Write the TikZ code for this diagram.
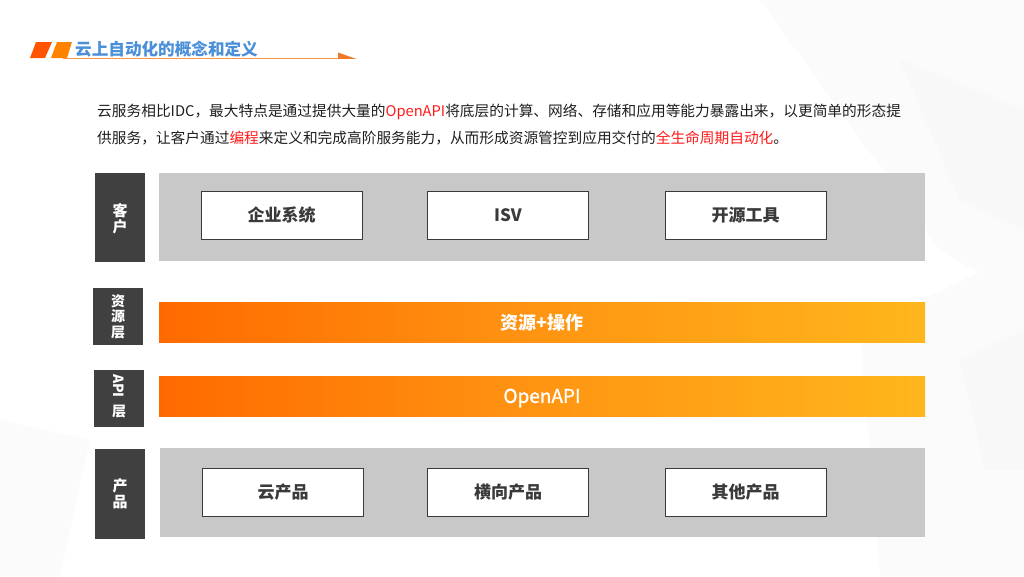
\documentclass[tikz,border=0pt]{standalone}
\usepackage{fontspec}
\setmainfont{Noto Sans CJK SC}
\newfontfamily\medfont[FakeBold=1.2]{Noto Sans CJK SC}
\definecolor{panel}{HTML}{C8C8C8}
\definecolor{darklab}{HTML}{404040}
\definecolor{oL}{HTML}{FF6A00}
\definecolor{oR}{HTML}{FFB61C}
\definecolor{oM}{HTML}{FF9512}
\definecolor{titleblue}{HTML}{4A8FD8}
\definecolor{txt}{HTML}{1E1E1E}
\definecolor{hl}{HTML}{FF1A1A}
\definecolor{boxtxt}{HTML}{3A3A3A}
\definecolor{bgA}{HTML}{F8F8F8}
\definecolor{bgB}{HTML}{FBFBFB}
\definecolor{tA}{HTML}{FF5500}
\definecolor{tB}{HTML}{FF8200}
\definecolor{tLine}{HTML}{F59646}
\definecolor{tTri}{HTML}{F07828}
\tikzset{
  panelbox/.style={fill=panel, draw=none},
  labbox/.style={fill=darklab, draw=none},
  itembox/.style={fill=white, draw=boxtxt, line width=0.8pt, minimum width=161pt, minimum height=48pt, inner sep=0pt,
    font=\fontsize{17}{20}\selectfont\bfseries, text=boxtxt},
  barbox/.style={left color=oL, right color=oR, middle color=oM, draw=none},
  bartext/.style={text=white, font=\fontsize{18}{21}\selectfont\bfseries},
  labtext/.style={text=white, font=\fontsize{15}{16}\selectfont\bfseries, align=center, inner sep=0pt},
  paratext/.style={text=txt, font=\fontsize{14.7}{18}\selectfont, inner sep=0pt, anchor=base west}
}
\begin{document}
\begin{tikzpicture}[x=1pt,y=-1pt]
\useasboundingbox (0,0) rectangle (1024,576);
% background facets
\fill[bgB] (760,0) -- (1024,0) -- (1024,300) -- (940,250) -- cycle;
\fill[bgA] (900,60) -- (1024,110) -- (1024,230) -- (960,200) -- cycle;
\fill[bgB] (860,330) -- (1024,250) -- (1024,576) -- (880,576) -- cycle;
\fill[bgA] (960,360) -- (1024,330) -- (1024,470) -- (985,470) -- cycle;
\fill[bgB] (0,420) -- (90,440) -- (60,576) -- (0,576) -- cycle;

% title decoration
\fill[tA] (36,42) -- (52,42) -- (45,58) -- (30,58) -- cycle;
\fill[tB] (57,42) -- (72,42) -- (67,58) -- (51,58) -- cycle;
\draw[tLine, line width=0.9pt] (63,58.3) -- (340,58.3);
\fill[tTri] (338,52.5) -- (356,58.8) -- (338,58.8) -- cycle;
\node[anchor=base west, inner sep=0pt, text=titleblue, font=\fontsize{16.6}{19}\selectfont\bfseries] (title) at (75,55.5) {云上自动化的概念和定义};

% paragraph
\node[paratext] (line1) at (97,116) {云服务相比IDC，最大特点是通过提供大量的\textcolor{hl}{OpenAPI}将底层的计算、网络、存储和应用等能力暴露出来，以更简单的形态提};
\node[paratext] (line2) at (97,143) {供服务，让客户通过\textcolor{hl}{编程}来定义和完成高阶服务能力，从而形成资源管控到应用交付的\textcolor{hl}{全生命周期自动化}。};

% row 1: customers
\fill[labbox] (95,173) rectangle (145,262);
\node[labtext] (labKH) at (120,218.5) {客\\户};
\fill[panelbox] (159,173) rectangle (925,261);
\node[itembox] (qiye) at (281.5,215.5) {企业系统};
\node[itembox] (isv) at (508,215.5) {ISV};
\node[itembox] (kaiyuan) at (745.5,215.5) {开源工具};

% row 2: resource layer
\fill[labbox] (93,288) rectangle (143,345);
\node[labtext, font=\fontsize{14}{15.5}\selectfont\bfseries] (labZY) at (118,316.5) {资\\源\\层};
\fill[barbox] (159,302) rectangle (925,342);
\node[bartext] (res) at (542,322.5) {资源+操作};

% row 3: API layer
\fill[labbox] (94,370) rectangle (144,427);
\node[labtext, rotate=-90, font=\fontsize{14}{15}\selectfont\bfseries] (labAPI) at (119,386) {API};
\node[labtext, font=\fontsize{14}{15}\selectfont\bfseries] (labC) at (119,412) {层};
\fill[barbox] (159,376) rectangle (925,416);
\node[bartext, font=\fontsize{19}{21}\selectfont\medfont] (api) at (542,398) {OpenAPI};

% row 4: products
\fill[labbox] (95,449) rectangle (145,539);
\node[labtext] (labCP) at (120,494) {产\\品};
\fill[panelbox] (160,448) rectangle (925,537);
\node[itembox] (yun) at (283,492) {云产品};
\node[itembox] (hx) at (508,492) {横向产品};
\node[itembox] (qt) at (745.5,492) {其他产品};
\end{tikzpicture}
\end{document}
